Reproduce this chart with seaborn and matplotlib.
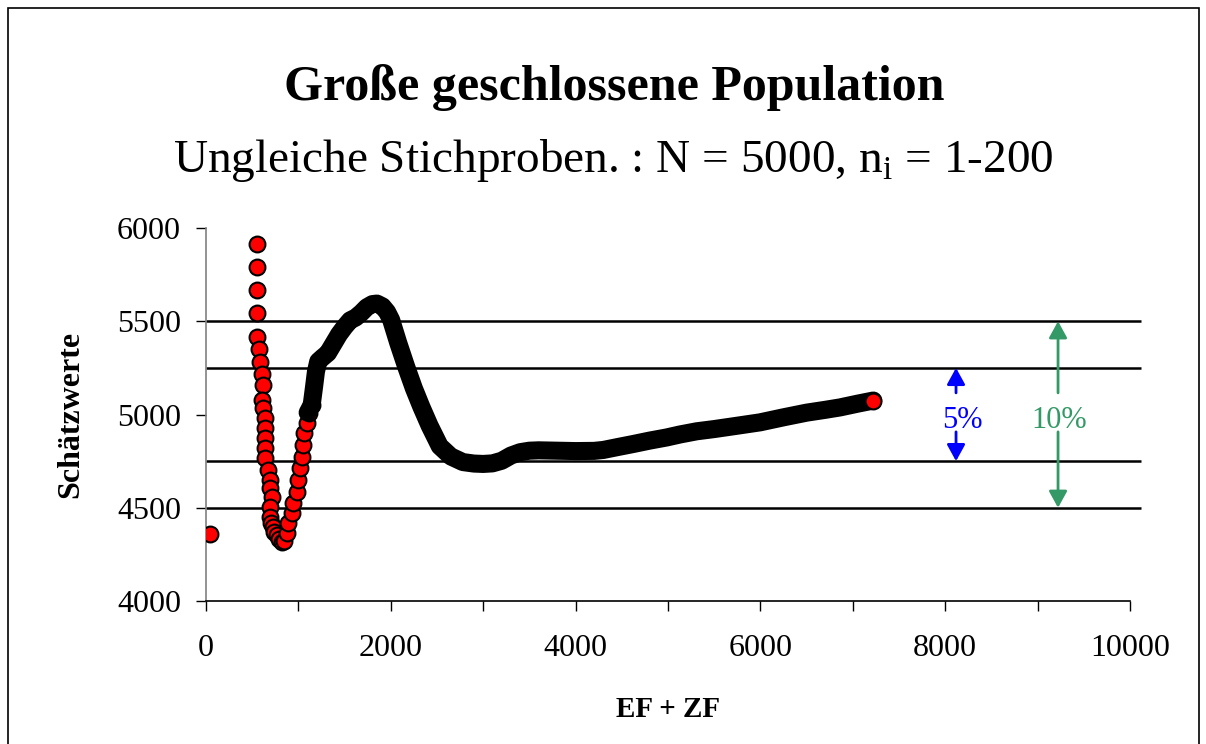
import numpy as np
import pandas as pd
import matplotlib
matplotlib.use("Agg")
import matplotlib.pyplot as plt
from matplotlib.patches import Rectangle
import seaborn as sns

# sparse part of the estimate series (single markers still visible)
sparse_ef_zf = [43, 549, 549, 549, 549, 549, 577, 584, 606, 613, 606, 620, 638, 638, 638, 638,
                638, 675, 693, 693, 711, 693, 693, 705, 722, 740, 765, 790, 819, 840, 873, 891,
                927, 945, 981, 999, 1017, 1036, 1053, 1061, 1090, 1118, 1144]
sparse_est = [4358, 5913, 5790, 5667, 5543, 5418, 5350, 5282, 5216, 5159, 5078, 5034, 4980, 4926, 4873, 4819,
              4766, 4703, 4649, 4605, 4560, 4506, 4452, 4420, 4399, 4372, 4354, 4335, 4318, 4322, 4363, 4417,
              4470, 4524, 4586, 4649, 4712, 4774, 4837, 4900, 4953, 5007, 5051]

# dense part (markers overlap into a solid band)
dense_ef_zf = [1100, 1144, 1170, 1190, 1215, 1260, 1320, 1380, 1440, 1500, 1560, 1620, 1680, 1740, 1800,
               1850, 1910, 1960, 2004, 2080, 2166, 2250, 2330, 2420, 2530, 2650, 2780, 2900, 3000, 3100,
               3200, 3300, 3400, 3500, 3600, 3800, 4000, 4200, 4300, 4450, 4625, 4800, 4986, 5130, 5310,
               5500, 5750, 5996, 6250, 6500, 6700, 6861, 7050, 7222]
dense_est = [5010, 5051, 5150, 5230, 5285, 5305, 5330, 5380, 5430, 5470, 5505, 5520, 5545, 5575, 5592,
             5595, 5580, 5550, 5507, 5385, 5257, 5140, 5042, 4940, 4830, 4775, 4745, 4737, 4735, 4738,
             4752, 4780, 4798, 4806, 4808, 4806, 4804, 4805, 4810, 4825, 4842, 4860, 4877, 4893, 4910,
             4922, 4940, 4958, 4985, 5010, 5025, 5038, 5058, 5075]

ref_lines = [4500, 4750, 5250, 5500]
x_ticks = [0, 2000, 4000, 6000, 8000, 10000]
y_ticks = [4000, 4500, 5000, 5500, 6000]

sns.set_style("white")
plt.rcParams['font.family'] = ['Liberation Serif', 'DejaVu Serif']
plt.rcParams['mathtext.fontset'] = 'custom'
plt.rcParams['mathtext.rm'] = 'Liberation Serif'
plt.rcParams['text.color'] = 'black'
plt.rcParams['axes.labelcolor'] = 'black'
plt.rcParams['xtick.color'] = 'black'
plt.rcParams['ytick.color'] = 'black'

fig = plt.figure(figsize=(12.06, 7.44), dpi=100)
ax = fig.add_axes([0.1708, 0.1922, 0.7662, 0.5013])

ax.hlines(ref_lines, 0, 10120, colors="black", lw=1.8, zorder=1, clip_on=False)

sparse = pd.DataFrame({"ef_zf": sparse_ef_zf, "est": sparse_est})
dense = pd.DataFrame({"ef_zf": dense_ef_zf, "est": dense_est})

sns.scatterplot(data=sparse, x="ef_zf", y="est", color="red", edgecolor="black",
                linewidth=1.5, s=130, zorder=3, ax=ax, legend=False)
sns.lineplot(data=dense, x="ef_zf", y="est", sort=False, estimator=None, color="black",
             lw=13, solid_capstyle="round", solid_joinstyle="round", zorder=3, ax=ax)
sns.scatterplot(data=dense.tail(1), x="ef_zf", y="est", color="red", edgecolor="black",
                linewidth=1.5, s=130, zorder=4, ax=ax, legend=False)

ax.set_xlim(0, 10000)
ax.set_ylim(4000, 6000)
ax.set_xticks(x_ticks)
ax.set_xticks(range(1000, 10000, 2000), minor=True)
ax.set_yticks(y_ticks)
ax.tick_params(axis="x", which="both", direction="out", length=7, width=1, color="black",
               labelsize=23, pad=17, bottom=True)
ax.tick_params(axis="y", direction="out", length=7, width=1, color="black",
               labelsize=23, pad=11, left=True)

for s in ["top", "right"]:
    ax.spines[s].set_visible(False)
ax.spines["left"].set_color("#808080")
ax.spines["left"].set_linewidth(1.2)
ax.spines["bottom"].set_color("black")
ax.spines["bottom"].set_linewidth(1.2)

ax.set_xlabel("EF + ZF", fontsize=21, fontweight="bold")
ax.set_ylabel("Schätzwerte", fontsize=23, fontweight="bold")
ax.xaxis.set_label_coords(0.5, -0.255)
ax.yaxis.set_label_coords(-0.131, 0.5)

# 5% and 10% bands
blue = "#0000FF"
green = "#339966"
arrow = "-|>,head_length=1.0,head_width=0.55"
ax.text(8182, 4928, "5%", color=blue, fontsize=22, ha="center", va="baseline")
ax.annotate("", xy=(8117, 5250), xytext=(8117, 5116),
            arrowprops=dict(arrowstyle=arrow, color=blue, lw=2, shrinkA=0, shrinkB=0, mutation_scale=10))
ax.annotate("", xy=(8117, 4750), xytext=(8117, 4907),
            arrowprops=dict(arrowstyle=arrow, color=blue, lw=2, shrinkA=0, shrinkB=0, mutation_scale=10))
ax.text(9230, 4928, "10%", color=green, fontsize=22, ha="center", va="baseline")
ax.annotate("", xy=(9221, 5500), xytext=(9221, 5116),
            arrowprops=dict(arrowstyle=arrow, color=green, lw=2, shrinkA=0, shrinkB=0, mutation_scale=10))
ax.annotate("", xy=(9221, 4500), xytext=(9221, 4907),
            arrowprops=dict(arrowstyle=arrow, color=green, lw=2, shrinkA=0, shrinkB=0, mutation_scale=10))

fig.text(0.5095, 0.8656, "Große geschlossene Population", ha="center", va="baseline",
         fontsize=36, fontweight="bold")
fig.text(0.5087, 0.7688, r"Ungleiche Stichproben. : N = 5000, n$_{\mathrm{i}}$ = 1-200",
         ha="center", va="baseline", fontsize=34)

fig.add_artist(Rectangle((0.0066, -0.02), 0.9876, 1.009, transform=fig.transFigure,
                         fill=False, edgecolor="black", lw=1.2))

fig.savefig("out.png", dpi=100)
